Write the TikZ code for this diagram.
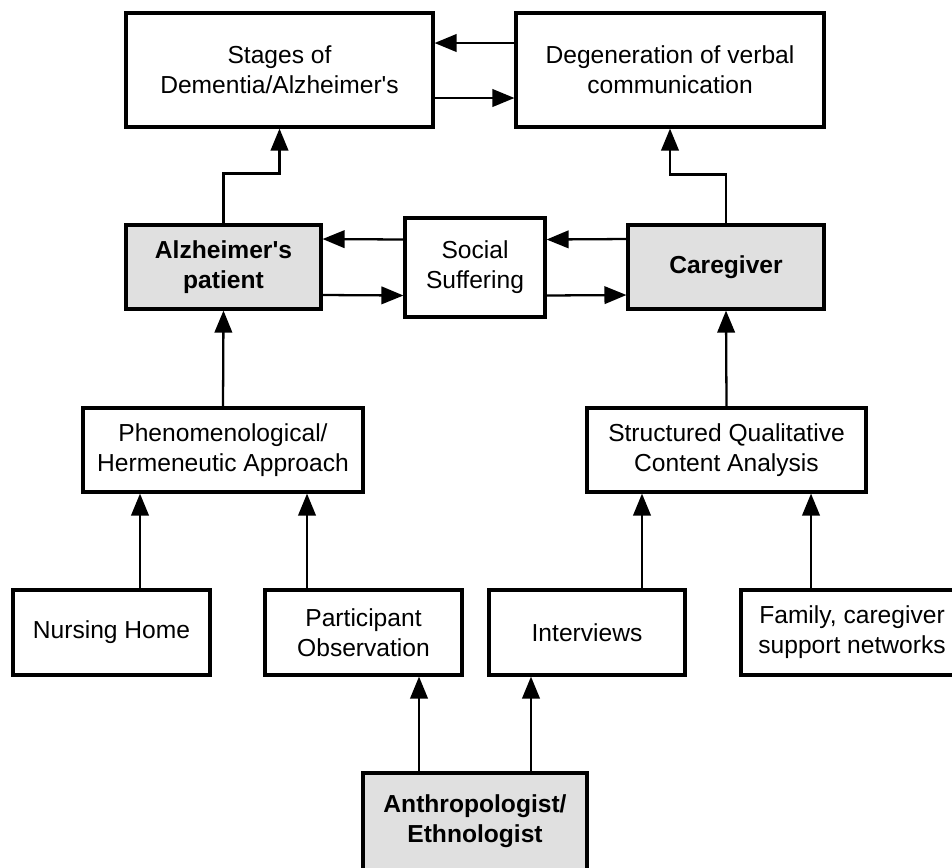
\documentclass[tikz,border=0pt]{standalone}
\usepackage{fontspec}
\setmainfont{Liberation Sans}[Ligatures=TeXOff]
\usepackage{tikz}
\usetikzlibrary{arrows.meta,positioning}
\tikzset{
  >={Triangle[length=4.4mm,width=3.5mm]},
  box/.style ={draw, line width=1.8pt, align=center, inner sep=2pt,
               font=\fontsize{14}{17}\selectfont, minimum height=1.68cm},
  role/.style={box, fill=black!12, font=\fontsize{14}{17}\selectfont\bfseries},
  flow/.style={->, line width=1.3pt}
}
\begin{document}
\begin{tikzpicture}[x=0.02cm, y=-0.02cm]
\useasboundingbox (0,0) rectangle (952,867);
\clip (0,0) rectangle (952,867);
% top row
\node[box, minimum width=6.14cm, minimum height=2.28cm] (stages) at (279.5,70) {Stages of\\Dementia/Alzheimer's};
\node[box, minimum width=6.16cm, minimum height=2.28cm] (degen)  at (670,70)   {Degeneration of verbal\\communication};
% actors
\node[role, minimum width=3.9cm]  (patient)   at (223.5,267) {Alzheimer's\\patient};
\node[box,  minimum width=2.8cm, minimum height=1.98cm] (social) at (475,267.5) {Social\\Suffering};
\node[role, minimum width=3.92cm] (caregiver) at (726,267)   {Caregiver};
% methods
\node[box, minimum width=5.6cm]  (phenom) at (223,450)   {Phenomenological/\\Hermeneutic Approach};
\node[box, minimum width=5.58cm] (sqca)   at (726.5,450) {Structured Qualitative\\Content Analysis};
% field
\node[box, minimum width=3.94cm, minimum height=1.7cm] (nursing)    at (111.5,632.5) {Nursing Home};
\node[box, minimum width=3.94cm, minimum height=1.7cm] (observe)    at (363.5,632.5) {Participant\\Observation};
\node[box, minimum width=3.92cm, minimum height=1.7cm] (interviews) at (587,632.5)   {Interviews};
\node[box, minimum width=4.44cm, minimum height=1.7cm] (family)     at (852,632.5)   {Family, caregiver\\support networks};
\node[role, minimum width=4.48cm, minimum height=1.94cm] (anthro)   at (475,821.5)   {Anthropologist/\\Ethnologist};

\draw[flow] ([yshift=.54cm]degen.west) -- ([yshift=.54cm]stages.east);
\draw[flow] ([yshift=-.56cm]stages.east) -- ([yshift=-.56cm]degen.west);
\draw[flow] ([yshift=.56cm]social.west) -- ([yshift=.56cm]patient.east);
\draw[flow] ([yshift=-.56cm]patient.east) -- ([yshift=-.56cm]social.west);
\draw[flow] ([yshift=.56cm]caregiver.west) -- ([yshift=.56cm]social.east);
\draw[flow] ([yshift=-.56cm]social.east) -- ([yshift=-.56cm]caregiver.west);
\draw[flow] (patient.north) -- ++(0,-50) -| (stages.south);
\draw[flow] (caregiver.north) -- ++(0,-49) -| (degen.south);
\draw[flow] (phenom.north) -- (patient.south);
\draw[flow] (sqca.north) -- (caregiver.south);
\draw[flow] ([xshift=.57cm]nursing.north) -- ([xshift=.57cm]nursing.north |- phenom.south);
\draw[flow] ([xshift=-1.13cm]observe.north) -- ([xshift=-1.13cm]observe.north |- phenom.south);
\draw[flow] ([xshift=1.1cm]interviews.north) -- ([xshift=1.1cm]interviews.north |- sqca.south);
\draw[flow] ([xshift=-.82cm]family.north) -- ([xshift=-.82cm]family.north |- sqca.south);
\draw[flow] ([xshift=-1.12cm]anthro.north) -- ([xshift=-1.12cm]anthro.north |- observe.south);
\draw[flow] ([xshift=1.12cm]anthro.north) -- ([xshift=1.12cm]anthro.north |- interviews.south);
\end{tikzpicture}
\end{document}
